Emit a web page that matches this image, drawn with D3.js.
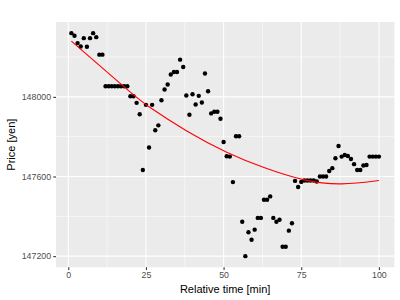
<!DOCTYPE html>
<html>
<head>
<meta charset="utf-8">
<script src="https://cdn.jsdelivr.net/npm/d3@7"></script>
<style>
  body { margin: 0; background: white; }
  text { font-family: "Liberation Sans", Arial, sans-serif; }
</style>
</head>
<body>
<div id="container"></div>
<script>
/* CONSTANTS AND GLOBALS */
const width = 400,
  height = 300,
  margin = { top: 22, bottom: 32.7, left: 56, right: 5.7 };

// price, one value per minute (1..100)
const minutes = d3.range(1, 101);
const prices = [
  148320, 148307, 148270, 148253, 148295, 148252, 148295, 148320, 148300, 148212,
  148212, 148053, 148053, 148053, 148053, 148053, 148053, 148053, 148053, 148003,
  148003, 147970, 147913, 147633, 147960, 147746, 147960, 147832, 147857, 147983,
  148037, 148062, 148112, 148125, 148125, 148187, 148150, 148007, 147910, 148013,
  147962, 148005, 147972, 148117, 148028, 147917, 147925, 147925, 147890, 147773,
  147702, 147700, 147572, 147802, 147802, 147373, 147200, 147320, 147282, 147333,
  147392, 147392, 147483, 147483, 147500, 147392, 147373, 147383, 147247, 147247,
  147328, 147365, 147578, 147547, 147573, 147580, 147580, 147580, 147580, 147575,
  147600, 147600, 147600, 147628, 147642, 147692, 147753, 147700, 147708, 147703,
  147688, 147662, 147633, 147633, 147655, 147658, 147700, 147700, 147700, 147700
];

// smoothed trend (red line) at a few times
const trendTimes = [1, 18, 26, 38, 51, 63, 76, 88, 100];
const trendPrices = [148280, 148050, 147950, 147830, 147722, 147645, 147583, 147563, 147580];

const xTicks = [0, 25, 50, 75, 100];
const yTicks = [147200, 147600, 148000];
const xMinor = [12.5, 37.5, 62.5, 87.5];
const yMinor = [147400, 147800, 148200];

const data = minutes.map((m, i) => ({ t: m, price: prices[i] }));
const trend = trendTimes.map((t, i) => ({ t: t, price: trendPrices[i] }));

// SCALES (ggplot style 5% expansion)
const xExt = d3.extent(data, d => d.t),
  yExt = d3.extent(data, d => d.price);
const xPad = (xExt[1] - xExt[0]) * 0.05,
  yPad = (yExt[1] - yExt[0]) * 0.05;

const xScale = d3.scaleLinear()
  .domain([xExt[0] - xPad, xExt[1] + xPad])
  .range([margin.left, width - margin.right]);

const yScale = d3.scaleLinear()
  .domain([yExt[0] - yPad, yExt[1] + yPad])
  .range([height - margin.bottom, margin.top]);

// CREATE SVG ELEMENT
const svg = d3.select("#container")
  .append("svg")
  .attr("width", width)
  .attr("height", height)
  .style("background-color", "white");

// panel
svg.append("rect")
  .attr("x", margin.left)
  .attr("y", margin.top)
  .attr("width", width - margin.left - margin.right)
  .attr("height", height - margin.top - margin.bottom)
  .attr("fill", "#EBEBEB");

// GRID
const grid = svg.append("g");
grid.selectAll(".vminor").data(xMinor).join("line")
  .attr("x1", d => xScale(d)).attr("x2", d => xScale(d))
  .attr("y1", margin.top).attr("y2", height - margin.bottom)
  .attr("stroke", "white").attr("stroke-width", 0.53);
grid.selectAll(".hminor").data(yMinor).join("line")
  .attr("y1", d => yScale(d)).attr("y2", d => yScale(d))
  .attr("x1", margin.left).attr("x2", width - margin.right)
  .attr("stroke", "white").attr("stroke-width", 0.53);
grid.selectAll(".vmajor").data(xTicks).join("line")
  .attr("x1", d => xScale(d)).attr("x2", d => xScale(d))
  .attr("y1", margin.top).attr("y2", height - margin.bottom)
  .attr("stroke", "white").attr("stroke-width", 1.07);
grid.selectAll(".hmajor").data(yTicks).join("line")
  .attr("y1", d => yScale(d)).attr("y2", d => yScale(d))
  .attr("x1", margin.left).attr("x2", width - margin.right)
  .attr("stroke", "white").attr("stroke-width", 1.07);

// BUILD AND CALL AXES
const xAxis = d3.axisBottom(xScale)
  .tickValues(xTicks)
  .tickFormat(d3.format("d"))
  .tickSize(2.75)
  .tickPadding(2.2);

const yAxis = d3.axisLeft(yScale)
  .tickValues(yTicks)
  .tickFormat(d3.format("d"))
  .tickSize(2.75)
  .tickPadding(2.2);

const gx = svg.append("g")
  .attr("transform", `translate(0, ${height - margin.bottom})`)
  .call(xAxis);

const gy = svg.append("g")
  .attr("transform", `translate(${margin.left}, 0)`)
  .call(yAxis);

[gx, gy].forEach(g => {
  g.select(".domain").remove();
  g.selectAll(".tick line").attr("stroke", "#333333").attr("stroke-width", 1.07);
  g.selectAll(".tick text")
    .attr("fill", "#4D4D4D")
    .style("font-size", "8.8px")
    .style("font-family", "'Liberation Sans', Arial, sans-serif");
});

// DRAW POINTS
svg.selectAll(".pt")
  .data(data)
  .join("circle")
  .attr("class", "pt")
  .attr("cx", d => xScale(d.t))
  .attr("cy", d => yScale(d.price))
  .attr("r", 2.2)
  .attr("fill", "black");

// DRAW TREND LINE
const drawLine = d3.line()
  .curve(d3.curveNatural)
  .x(d => xScale(d.t))
  .y(d => yScale(d.price));

svg.append("path")
  .datum(trend)
  .attr("fill", "none")
  .attr("stroke", "#FF0000")
  .attr("stroke-width", 1.1)
  .attr("d", drawLine);

// AXIS TITLES
svg.append("text")
  .attr("x", (margin.left + width - margin.right) / 2)
  .attr("y", 292.5)
  .attr("text-anchor", "middle")
  .style("font-size", "11px")
  .attr("fill", "black")
  .text("Relative time [min]");

svg.append("text")
  .attr("transform", `translate(14.5, ${(margin.top + height - margin.bottom) / 2}) rotate(-90)`)
  .attr("text-anchor", "middle")
  .style("font-size", "11px")
  .attr("fill", "black")
  .text("Price [yen]");
</script>
</body>
</html>
